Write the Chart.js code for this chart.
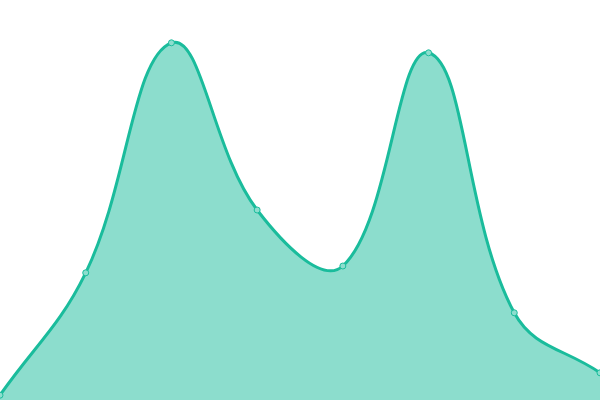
<!DOCTYPE html>
<html><head><meta charset="utf-8">
<script src="https://cdn.jsdelivr.net/npm/chart.js@4"></script>
<style>html,body{margin:0;padding:0;background:#fff}#wrap{width:600px;height:400px}</style>
</head><body><div id="wrap"><canvas id="c"></canvas></div>
<script>
const labels = ["A","B","C","D","E","F","G","H"];
const values = [1.2, 31.8, 89.3, 47.5, 33.5, 86.8, 21.8, 6.8];
new Chart(document.getElementById('c'), {
  type: 'line',
  data: { labels: labels, datasets: [{
    data: values,
    borderColor: '#1abc9c',
    backgroundColor: 'rgba(26,188,156,0.5)',
    borderWidth: 3,
    fill: 'origin',
    tension: 0.4,
    pointRadius: 3,
    pointBorderWidth: 1,
    pointBackgroundColor: '#8ddece',
    pointBorderColor: '#1abc9c'
  }]},
  options: {
    responsive: true, maintainAspectRatio: false, animation: false,
    layout: { padding: 0, autoPadding: false },
    plugins: { legend: { display: false }, tooltip: { enabled: false } },
    scales: { x: { display: false }, y: { display: false, min: 0, max: 100 } }
  }
});
</script></body></html>
